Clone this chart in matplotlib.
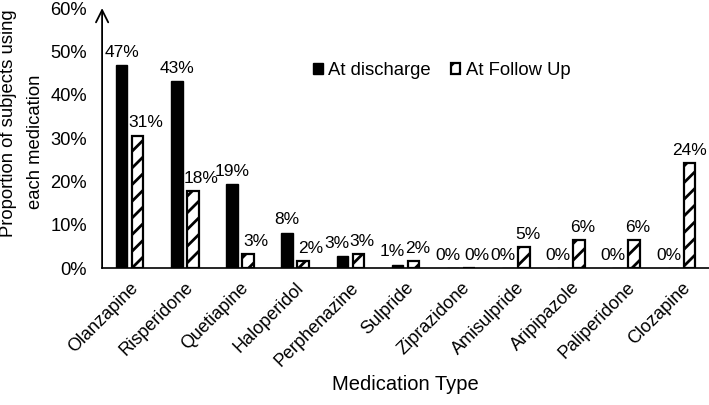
import numpy as np
import matplotlib
matplotlib.use('Agg')
import matplotlib.pyplot as plt

plt.rcParams['font.family'] = ['Liberation Sans', 'DejaVu Sans']
plt.rcParams['hatch.linewidth'] = 2.0

# Data
medications = ['Olanzapine', 'Risperidone', 'Quetiapine', 'Haloperidol', 'Perphenazine',
               'Sulpride', 'Ziprazidone', 'Amisulpride', 'Aripipazole', 'Paliperidone', 'Clozapine']
atDischarge = [0.469, 0.432, 0.194, 0.082, 0.028, 0.008, 0.0, 0.0, 0.0, 0.0, 0.0]
atFollowUp = [0.306, 0.178, 0.033, 0.016, 0.033, 0.016, 0.0, 0.049, 0.064, 0.064, 0.243]
dischargeLabels = ['47%', '43%', '19%', '8%', '3%', '1%', '0%', '0%', '0%', '0%', '0%']
followUpLabels = ['31%', '18%', '3%', '2%', '3%', '2%', '0%', '5%', '6%', '6%', '24%']
yTicks = [0, 0.1, 0.2, 0.3, 0.4, 0.5, 0.6]

fig = plt.figure(figsize=(7.09, 4.05), dpi=100)
ax = fig.add_axes([0.144, 0.338, 0.856, 0.642])

x = np.arange(len(medications))
barWidth = 0.21
offset = 0.145
bars1 = ax.bar(x - offset, atDischarge, barWidth, color='black', edgecolor='black',
               linewidth=1.0, label='At discharge')
bars2 = ax.bar(x + offset, atFollowUp, barWidth, color='white', edgecolor='black',
               linewidth=1.6, hatch='//', label='At Follow Up')

# value labels; labels of neighbouring bars are pushed apart a little,
# like the original chart does
for b1, b2, lab1, lab2 in zip(bars1, bars2, dischargeLabels, followUpLabels):
    h1, h2 = b1.get_height(), b2.get_height()
    close = abs(h1 - h2) < 0.03
    shift1 = -0.09 if (close or h1 == 0) else 0
    if close and h2 == 0:
        shift2 = 0.14
    elif h2 - h1 > 0.15:
        shift2 = 0
    elif h1 - h2 > 0.05:
        shift2 = 0.14
    else:
        shift2 = 0.07
    ax.text(b1.get_x() + b1.get_width() / 2 + shift1, h1 + 0.012, lab1,
            ha='center', va='bottom', fontsize=12.5)
    ax.text(b2.get_x() + b2.get_width() / 2 + shift2, h2 + 0.012, lab2,
            ha='center', va='bottom', fontsize=12.5)

ax.set_xlim(-0.5, len(medications) - 0.5)
ax.set_ylim(0, 0.6)
ax.set_yticks(yTicks)
ax.set_yticklabels([f'{int(round(t * 100))}%' for t in yTicks], fontsize=13.2)
ax.set_xticks(x)
ax.set_xticklabels(medications, rotation=45, ha='right', rotation_mode='anchor', fontsize=13)
ax.tick_params(axis='y', length=0, pad=11)
ax.tick_params(axis='x', length=0, pad=8)

for side in ['top', 'right', 'left']:
    ax.spines[side].set_visible(False)
ax.spines['bottom'].set_linewidth(1.2)
ax.annotate('', xy=(0, 1.0), xytext=(0, 0), xycoords='axes fraction',
            arrowprops=dict(arrowstyle='->', lw=1.3, color='black', mutation_scale=22,
                            shrinkA=0, shrinkB=0))

# axis titles
fig.text(9 / 709, 1 - 123 / 405, 'Proportion of subjects using', rotation=90,
         ha='center', va='center', fontsize=13.3)
fig.text(35 / 709, 1 - 142 / 405, 'each medication', rotation=90,
         ha='center', va='center', fontsize=13.3)
fig.text(405 / 709, 1 - 385 / 405, 'Medication Type', ha='center', va='center', fontsize=14.5)

ax.legend(loc='center', bbox_to_anchor=(0.56, 0.76), ncol=2, frameon=False,
          fontsize=13.3, handlelength=0.5, handleheight=0.5, handletextpad=0.3, columnspacing=1.1)

plt.savefig('out.png', dpi=100)
